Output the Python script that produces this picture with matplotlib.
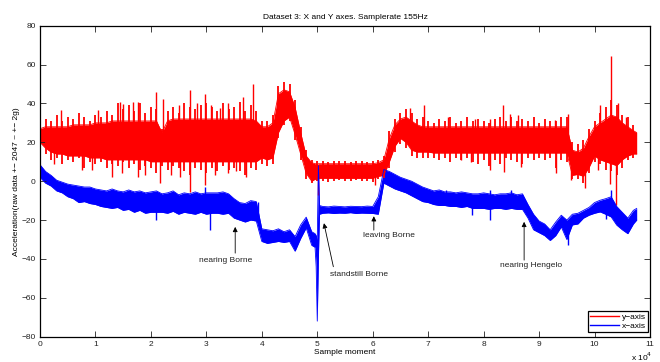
import numpy as np
import matplotlib
matplotlib.use("Agg")
import matplotlib.pyplot as plt
from matplotlib.lines import Line2D

plt.rcParams['font.family'] = ['Liberation Sans', 'DejaVu Sans']

# sample positions (thousands of samples) for the band envelopes
sample_k = list(range(0, 50)) + [49.6, 49.8, 50, 50.2, 50.4] + list(range(51, 108)) + [107.6]
# positions (thousands of samples) of the noise hairs
hair_k = list(range(0, 108))

# ---- y-axis series (red) ----
red_core_top = [27, 28, 28, 28, 28, 28, 29, 29, 29, 29,
                30, 30, 30, 31, 31, 31, 31, 31, 31, 31,
                31, 31, 25, 31, 32, 32, 32, 32, 32, 32,
                32, 32, 32, 32, 32, 32, 32, 32, 32, 31,
                28, 28, 30, 45, 47, 46, 38, 25, 13, 9.5,
                9, 9, 8.5, 9, 9,
                9, 9, 9, 9, 9, 9, 9, 9, 9, 9,
                9.5, 11, 22, 29, 32, 33, 31, 29, 28, 28,
                28, 28, 28, 28, 28, 28, 28, 28, 28, 28,
                28, 28, 28, 28, 28, 28, 28, 28, 28, 28,
                28, 28, 28, 28, 28, 16, 15, 17, 23, 28,
                30, 32, 34, 33, 30, 28, 26,
                25]
red_core_bot = [20, 17, 15, 14, 14, 13, 13, 13, 13, 12,
                12, 12, 11, 11, 11, 11, 11, 11, 11, 11,
                10, 10, 10, 10, 10, 10, 10, 10, 10, 10,
                10, 10, 10, 10, 10, 10, 10, 10, 10, 10,
                12, 11, 12, 25, 31, 33, 24, 14, 4, 0,
                1, 1, 1, 1, 1.5,
                1.5, 1.5, 1.5, 1.5, 1.5, 1.5, 1.5, 1.5, 1.5, 1.5,
                2.5, 3, 10, 18, 22, 20, 16, 15, 15, 15,
                14.5, 14.5, 14.5, 14.5, 14.5, 14.5, 14.5, 14.5, 14.5, 14.5,
                14.5, 14.5, 14.5, 14.5, 14.5, 14.5, 14.5, 14.5, 14.5, 14.5,
                14.5, 14.5, 14.5, 14.5, 14.5, 3, 3.5, 2.5, 7, 13,
                11, 10, 9, 8, 11, 13, 14,
                14]
red_hair_top = [30, 32, 31, 34, 31, 33, 32, 35, 33, 31,
                34, 33, 36, 34, 40, 37, 39, 36, 40, 35,
                38, 37, 27, 36, 38, 35, 40, 38, 37, 39,
                40, 38, 36, 40, 37, 38, 41, 36, 39, 36,
                31, 31, 34, 49, 51, 50, 42, 28, 16, 11,
                10.5, 10.5, 10, 10.5, 10.5, 10.5, 10, 10.5, 10.5, 10, 10.5,
                11, 13, 26, 32, 35, 37, 35, 32, 33,
                31, 30, 32, 31, 33, 30, 31, 33, 31, 32,
                31, 30, 32, 33, 31, 33, 31, 32, 31, 33,
                30, 32, 31, 31, 33, 33, 20, 19, 21, 27,
                31, 35, 38, 42, 39, 34, 33, 29]
red_hair_bot = [18, 14, 11, 12, 9, 11, 10, 12, 7, 10,
                9, 10, 7, 9, 8, 10, 7, 9, 6, 8,
                7, 4, 8, 6, 8, 7, 5, 3, 7, 6,
                4, 7, 5, 8, 6, 7, 5, 3, 7, 6,
                9, 8, 9, 22, 29, 31, 21, 11, 1, -1,
                0, 0, -0.5, 0, 0.5, 0, 0, 0.5, 0, 0, -0.5,
                1, 1.5, 7, 15, 19, 17, 13, 12, 12,
                12, 12, 11, 12, 10, 12, 11, 12, 10, 9,
                11, 8, 11, 9, 12, 11, 10, 9, 12, 11,
                12, 11, 12, 7, 11, 10, 1, 1, -1, 4,
                10, 9, 6, 5, 3, 7, 11, 12]
# single extreme spikes (position in thousands, value)
red_spike_k = [3.8, 10.5, 14.4, 15.0, 16.8, 17.7, 21.0, 22.2, 25.1, 27.1, 28.3, 29.7,
               30.9, 32.4, 33.9, 36.6, 38.4, 66.8, 69.3, 73.6, 78.4, 81.2, 83.5, 84.7,
               86.2, 92.8, 95.2, 100.9, 103.0, 104.2, 105.7,
               2.6, 7.6, 9.4, 13.0, 14.8, 17.7, 19.0, 21.6, 23.7, 25.2, 27.1, 29.7,
               31.5, 33.9, 35.4, 37.2, 50.1, 60.4, 76.0, 77.8, 81.1, 83.6, 86.8, 93.1,
               95.8, 98.2, 100.6, 102.7, 103.9]
red_spike_val = [36.5, 36.5, 40.8, 39.5, 40.8, 40.5, 46, 42.5, 39, 47, 40, 45,
                 39, 37.5, 40, 43.4, 50, 37.5, 39, 33, 32, 32, 39, 34.8,
                 34, 31.4, 34.8, 39, 64.3, 40, 33,
                 9, 5.6, 6, 2.2, 4, 2.2, 3, -1, 3, 2, -5.5, -1.8,
                 3, 4, 5, 2.2, -7, -2, 10.8, 10, 5.6, 4.8, 7.3, 4,
                 0.5, -3.5, 6, -1.5, -12.3]

# ---- x-axis series (blue) ----
blue_top = [8.5, 5, 3, 0.5, -0.5, -1.5, -2, -2.5, -3, -3,
            -4, -4.5, -5, -4, -5, -5.5, -4.5, -5.5, -5, -6,
            -5.5, -5, -6.5, -6, -5, -7, -6, -6.5, -5.5, -6.5,
            -6, -6, -6, -5.5, -6.5, -9, -11, -11.5, -10, -10.5,
            -24.5, -25, -25.5, -24.5, -26, -25, -28.5, -22.5, -18.5, -26,
            -27, -28, -30, 8, -12.5,
            -13, -13.2, -12.8, -13, -13.2, -12.9, -13, -13.1, -12.8, -13,
            -8, 6, 5, 3.5, 2, 1, 0, -1.5, -3, -4,
            -5, -4.5, -5.5, -5.5, -6, -5.5, -6, -6.5, -6.5, -6,
            -6.5, -7, -6.5, -6.5, -6, -7, -6.5, -12, -17, -20.5,
            -22, -25, -21, -17.5, -20, -17, -16.5, -15, -13.5, -11,
            -9.8, -9, -8, -13, -16, -19, -15,
            -14]
blue_bot = [2, -1, -2.5, -5, -6, -8, -9, -11, -10.5, -11.5,
            -12, -13, -13.5, -14, -13.5, -15, -14.5, -16, -15, -16.5,
            -16, -16, -16, -16.5, -15.5, -17, -16, -16.5, -17, -16,
            -17, -16.5, -16.5, -17, -16.5, -19, -20, -21, -20, -20.5,
            -31, -32, -31.5, -31, -31.5, -31, -36, -29.5, -24, -33,
            -34, -44, -72, -40, -17,
            -16.5, -16.3, -16.6, -16.4, -16.5, -16.2, -16.6, -16.4, -16.5, -16.6,
            -17, -1, -2.5, -4, -5, -6, -7.5, -9, -10.5, -11,
            -12, -12.5, -12.5, -13, -13, -13.5, -13, -14, -14, -14,
            -14.5, -14, -14, -14.5, -14, -14.5, -14.5, -19, -25, -26.5,
            -28, -30.5, -28, -23.5, -30, -22.5, -22, -19, -17.5, -16.5,
            -15.8, -17, -18.4, -22.6, -25, -27, -22,
            -20]
blue_spike_k = [21.0, 30.6, 29.7, 39.3, 73.3, 77.9, 81.1, 81.1, 85.0, 95.3, 103.0, 102.0]
blue_spike_val = [-20, -25, -2.9, -10.5, -4.6, -17.5, -20, -4.6, -4.6, -33, -4.6, -19.5]

x_tick_vals = list(range(0, 12))
y_tick_vals = [-80, -60, -40, -20, 0, 20, 40, 60, 80]

# annotations: (label, arrow tip, arrow tail, text position)
notes = [
    ("nearing Borne", (35200, -23.5), (35200, -37), (33400, -40.6)),
    ("standstill Borne", (51200, -21.6), (52900, -44), (57500, -47.8)),
    ("leaving Borne", (60200, -18), (60200, -25.2), (62900, -27.8)),
    ("nearing Hengelo", (87300, -20.9), (87300, -40.6), (88500, -43.3)),
]

FS = 6
samples = np.array(sample_k) * 1000
hairs = np.array(hair_k) * 1000

fig = plt.figure(figsize=(6.6, 3.62), dpi=100)
ax = fig.add_axes([40 / 660, 1 - 336.7 / 362, 610 / 660, 311 / 362])

red = '#ff0000'
blue = '#0000ff'


def band(top, bot, color):
    top = np.array(top, float)
    bot = np.array(bot, float)
    ax.fill_between(samples, bot, top, color=color, lw=0)
    ax.plot(samples, top, color=color, lw=0.6)
    ax.plot(samples, bot, color=color, lw=0.6)
    return (top + bot) / 2


def strokes(xs, mid, vals, color, lw):
    xs = np.asarray(xs, float)
    m = np.interp(xs, samples, mid)
    ax.vlines(xs, m, vals, color=color, lw=lw)


mid_r = band(red_core_top, red_core_bot, red)
strokes(hairs, mid_r, red_hair_top, red, 1.3)
strokes(hairs, mid_r, red_hair_bot, red, 1.3)
strokes(np.array(red_spike_k) * 1000, mid_r, red_spike_val, red, 1.0)

mid_b = band(blue_top, blue_bot, blue)
strokes(np.array(blue_spike_k) * 1000, mid_b, blue_spike_val, blue, 1.0)

ax.set_xlim(0, 110000)
ax.set_ylim(-80, 80)
ax.set_xticks([v * 10000 for v in x_tick_vals])
ax.set_xticklabels([str(v) for v in x_tick_vals])
ax.set_yticks(y_tick_vals)
ax.set_yticklabels([str(v).replace('-', '\u2212') for v in y_tick_vals])
ax.tick_params(direction='in', top=True, right=True, length=4, width=0.6,
               labelsize=FS, pad=3, colors='#222222')
for s in ax.spines.values():
    s.set_linewidth(0.9)

ax.set_title('Dataset 3: X and Y axes. Samplerate 155Hz', fontsize=FS, pad=5)
ax.set_xlabel('Sample moment', fontsize=FS, labelpad=1)
ax.set_ylabel('Acceleration(raw data +\u2212 2047 ~ +\u2212 2g)', fontsize=FS, labelpad=1)
ax.text(1.004, -0.065, r'x 10$^{4}$', transform=ax.transAxes, ha='right', va='center',
        fontsize=FS)

for label, tip, tail, tpos in notes:
    ax.annotate('', xy=tip, xytext=tail,
                arrowprops=dict(arrowstyle='-|>', color='black', lw=0.6,
                                mutation_scale=7, shrinkA=0, shrinkB=0))
    ax.text(tpos[0], tpos[1], label, ha='center', va='center', fontsize=FS,
            color='#222222')

h1 = Line2D([], [], color=red, lw=1.0)
h2 = Line2D([], [], color=blue, lw=1.0)
leg = ax.legend([h1, h2], ['y\u2212axis', 'x\u2212axis'], loc='lower right',
                bbox_to_anchor=(0.997, 0.015),
                fontsize=FS, handlelength=3.5, fancybox=False, framealpha=1,
                edgecolor='black', borderpad=0.25, labelspacing=0.15, handletextpad=0.4,
                borderaxespad=0)
leg.get_frame().set_linewidth(0.9)

fig.savefig('out.png', dpi=100)
